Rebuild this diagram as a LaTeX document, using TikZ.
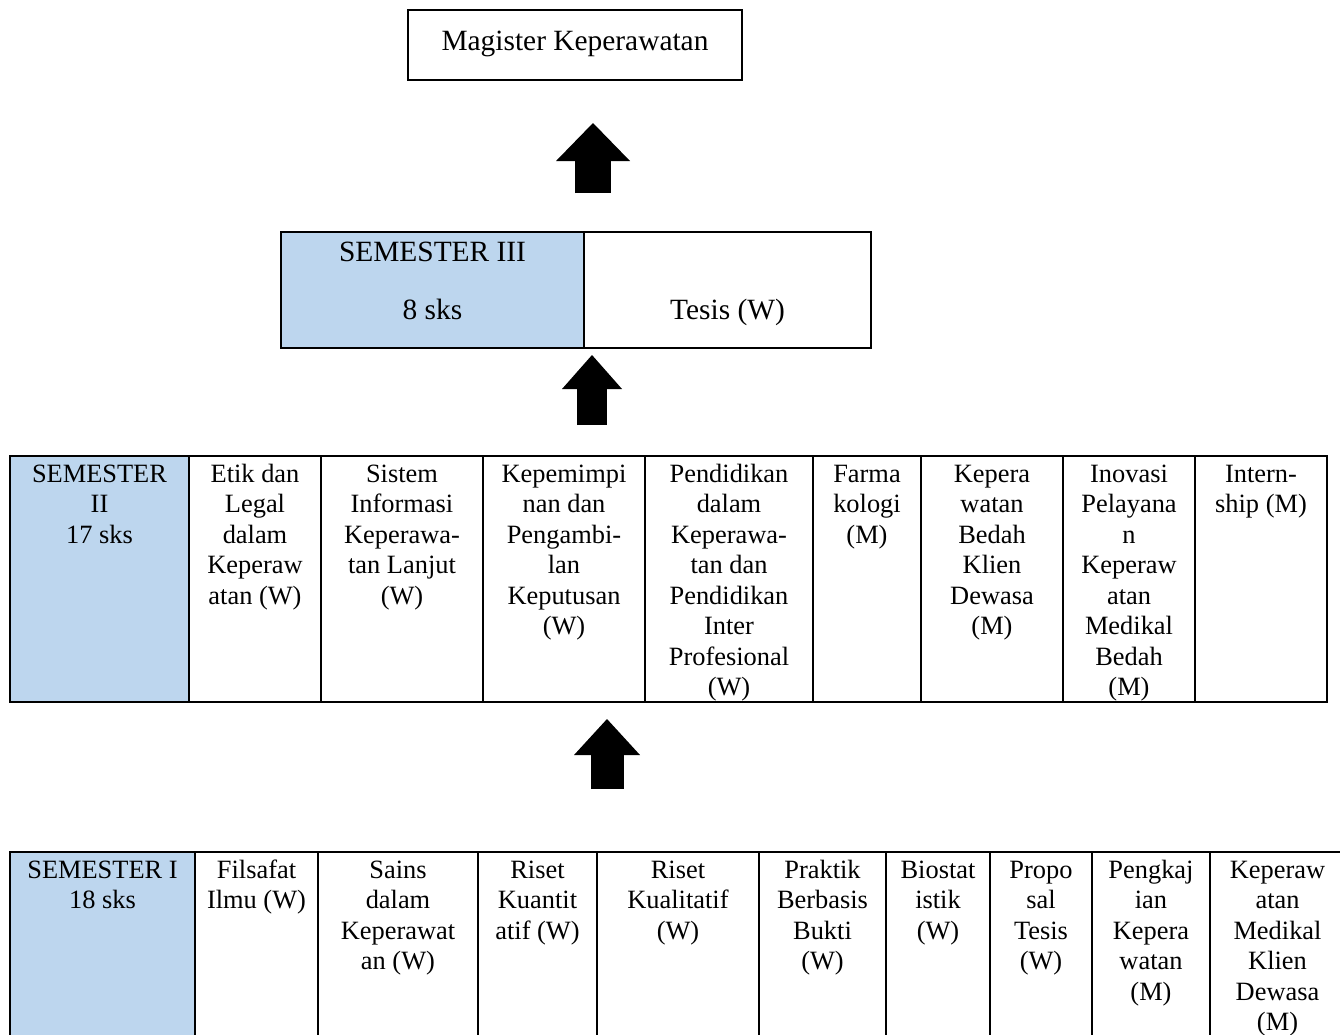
\documentclass[tikz,border=0pt]{standalone}
\usepackage{fontspec}
\setmainfont{Liberation Serif}
\usetikzlibrary{arrows.meta}
\definecolor{biru}{HTML}{BDD6EE}
\newcommand{\teks}{\fontsize{26.4}{30.5}\selectfont}
\newcommand{\teksbesar}{\fontsize{29.4}{34}\selectfont}
% one table cell: [style] left, top, right, bottom, name, text
\newcommand{\sel}[7][]{%
  \node[sel,#1,minimum width=#4-#2,minimum height=#5-#3] (#6) at ({(#2+#4)/2},{(#3+#5)/2}) {};
  \node[isi] (#6t) at ({(#2+#4)/2},#3+26) {\parbox[t]{\dimexpr#4pt-#2pt-4pt\relax}{\centering #7}};}

\begin{document}
\begin{tikzpicture}[x=1pt,y=-1pt,
  sel/.style={draw,line width=1.8pt,inner sep=0pt},
  semester/.style={fill=biru},
  isi/.style={anchor=base,inner sep=0pt,font=\teks},
  panah/.style={draw=black}]
\useasboundingbox (0,0) rectangle (1340,1034);
\clip (0,0) rectangle (1340,1034);

% top box
\node[sel,line width=1.4pt,minimum width=334,minimum height=70] (mag) at (575,45) {};
\node[isi,font=\teksbesar] (magt) at (575,50) {Magister Keperawatan};

% semester III
\node[sel,semester,minimum width=303,minimum height=116] (s3a) at (432.5,290) {};
\node[sel,minimum width=287,minimum height=116] (s3b) at (727.5,290) {};
\node[isi,font=\teksbesar] (s3at) at (432.5,261) {SEMESTER III};
\node[isi,font=\teksbesar] (s3as) at (432.5,319) {8 sks};
\node[isi,font=\teksbesar] (s3bt) at (727.5,319) {Tesis (W)};

% semester II
\sel[semester]{10}{456}{189}{702}{s2a}{SEMESTER\\II\\17 sks}
\sel{189}{456}{321}{702}{s2b}{Etik dan\\Legal\\dalam\\Keperaw\\atan (W)}
\sel{321}{456}{483}{702}{s2c}{Sistem\\Informasi\\Keperawa-\\tan Lanjut\\(W)}
\sel{483}{456}{645}{702}{s2d}{Kepemimpi\\nan dan\\Pengambi-\\lan\\Keputusan\\(W)}
\sel{645}{456}{813}{702}{s2e}{Pendidikan\\dalam\\Keperawa-\\tan dan\\Pendidikan\\Inter\\Profesional\\(W)}
\sel{813}{456}{921}{702}{s2f}{Farma\\kologi\\(M)}
\sel{921}{456}{1063}{702}{s2g}{Kepera\\watan\\Bedah\\Klien\\Dewasa\\(M)}
\sel{1063}{456}{1195}{702}{s2h}{Inovasi\\Pelayana\\n\\Keperaw\\atan\\Medikal\\Bedah\\(M)}
\sel{1195}{456}{1327}{702}{s2i}{Intern-\\ship (M)}

% semester I
\sel[semester]{10}{852}{195}{1040}{s1a}{SEMESTER I\\18 sks}
\sel{195}{852}{318}{1040}{s1b}{Filsafat\\Ilmu (W)}
\sel{318}{852}{478}{1040}{s1c}{Sains\\dalam\\Keperawat\\an (W)}
\sel{478}{852}{597}{1040}{s1d}{Riset\\Kuantit\\atif (W)}
\sel{597}{852}{759}{1040}{s1e}{Riset\\Kualitatif\\(W)}
\sel{759}{852}{886}{1040}{s1f}{Praktik\\Berbasis\\Bukti\\(W)}
\sel{886}{852}{990}{1040}{s1g}{Biostat\\istik\\(W)}
\sel{990}{852}{1092}{1040}{s1h}{Propo\\sal\\Tesis\\(W)}
\sel{1092}{852}{1210}{1040}{s1i}{Pengkaj\\ian\\Kepera\\watan\\(M)}
\sel{1210}{852}{1345}{1040}{s1j}{Keperaw\\atan\\Medikal\\Klien\\Dewasa\\(M)}

% block arrows
\coordinate (p1a) at (593,193);
\coordinate (p1b) at (593,123);
\coordinate (p2a) at (592,425);
\coordinate (p2b) at (592,355);
\coordinate (p3a) at (607,789);
\coordinate (p3b) at (607,719);
\draw[panah,line width=36pt,-{Triangle[width=74pt,length=38pt,line width=0pt]}] (p1a) -- (p1b);
\draw[panah,line width=30pt,-{Triangle[width=60pt,length=34pt,line width=0pt]}] (p2a) -- (p2b);
\draw[panah,line width=33pt,-{Triangle[width=66pt,length=36pt,line width=0pt]}] (p3a) -- (p3b);
\end{tikzpicture}
\end{document}
